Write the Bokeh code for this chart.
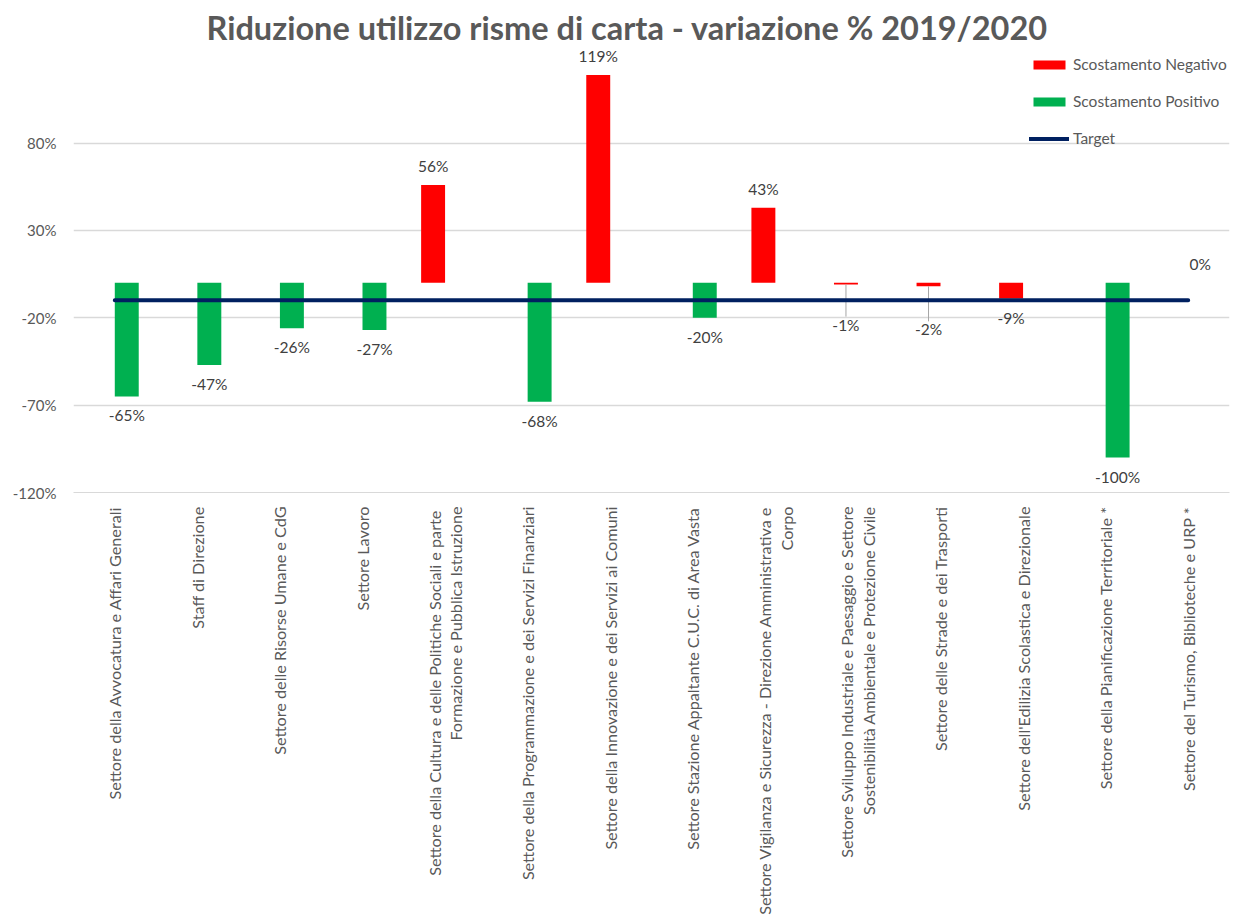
import math
from bokeh.plotting import figure
from bokeh.models import (ColumnDataSource, FactorRange, Range1d, FixedTicker,
                          NumeralTickFormatter, Legend, LegendItem, Title)
from bokeh.transform import dodge
from bokeh.core.properties import value
from bokeh.embed import file_html
from bokeh.resources import INLINE

# ---------------- data ----------------
categories = [
    "Settore della Avvocatura e Affari Generali",
    "Staff di Direzione",
    "Settore delle Risorse Umane e CdG",
    "Settore Lavoro",
    "Settore della Cultura e delle Politiche Sociali e  parte\nFormazione e Pubblica Istruzione",
    "Settore della Programmazione e dei Servizi Finanziari",
    "Settore della Innovazione e dei Servizi ai Comuni",
    "Settore Stazione Appaltante C.U.C. di Area Vasta",
    "Settore Vigilanza e Sicurezza - Direzione Amministrativa e\nCorpo",
    "Settore Sviluppo Industriale e Paesaggio e Settore\nSostenibilità Ambientale e Protezione Civile",
    "Settore delle Strade e dei Trasporti",
    "Settore dell'Edilizia Scolastica e Direzionale",
    "Settore della Pianificazione Territoriale *",
    "Settore del Turismo, Biblioteche e URP *",
]
scostamento_negativo = [None, None, None, None, 0.56, None, 1.19, None, 0.43, -0.01, -0.02, -0.09, None, None]
scostamento_positivo = [-0.65, -0.47, -0.26, -0.27, None, -0.68, None, -0.20, None, None, None, None, -1.00, 0.0]
target = [-0.10] * 14
y_ticks = [-1.2, -0.7, -0.2, 0.3, 0.8]

title_text = "Riduzione utilizzo risme di carta - variazione % 2019/2020"

# ---------------- layout / style ----------------
FRAME_W, FRAME_H = 1156, 442
Y0, Y1 = -1.2, 1.33
PPU = FRAME_H / (Y1 - Y0)          # pixels per unit on y
BAR_W = 0.29
OFF = 0.145
LABEL_GAP = 19
manual_nudge = {9: 40, 10: 43}     # labels moved by hand in the original (with leader lines)

RED, GREEN, NAVY = "#FF0000", "#00B050", "#002060"
TXT, LBL, GRID = "#595959", "#404040", "#D9D9D9"
FONT = "Lato"


def series_source(vals):
    cats, vs, labels, dy = [], [], [], []
    for i, v in enumerate(vals):
        if v is None:
            continue
        cats.append(categories[i])
        vs.append(v)
        labels.append(f"{round(v * 100):.0f}%")
        gap = manual_nudge.get(i, LABEL_GAP)
        dy.append(-gap if v >= 0 else gap)
    return ColumnDataSource(dict(cat=cats, val=vs, label=labels, dy=dy))


p = figure(x_range=FactorRange(*categories), y_range=Range1d(Y0, Y1),
           frame_width=FRAME_W, frame_height=FRAME_H,
           min_border_left=73, min_border_right=4, min_border_top=50, min_border_bottom=415,
           output_backend="svg", toolbar_location=None, background_fill_color="white",
           border_fill_color="white", outline_line_color=None)

src_neg = series_source(scostamento_negativo)
src_pos = series_source(scostamento_positivo)

r_neg = p.vbar(x=dodge("cat", -OFF, range=p.x_range), top="val", bottom=0, width=BAR_W,
               source=src_neg, fill_color=RED, line_color=None)
r_pos = p.vbar(x=dodge("cat", OFF, range=p.x_range), top="val", bottom=0, width=BAR_W,
               source=src_pos, fill_color=GREEN, line_color=None)

# leader lines for the manually moved labels
lead_x, lead_y0, lead_y1 = [], [], []
for i, v in enumerate(scostamento_negativo):
    if v is not None and i in manual_nudge:
        lead_x.append(categories[i])
        lead_y0.append(v)
        lead_y1.append(v - (manual_nudge[i] - 8) / PPU)
src_lead = ColumnDataSource(dict(cat=lead_x, y0=lead_y0, y1=lead_y1))
p.segment(x0=dodge("cat", -OFF, range=p.x_range), x1=dodge("cat", -OFF, range=p.x_range),
          y0="y0", y1="y1", source=src_lead, line_color="#A6A6A6", line_width=1)

src_t = ColumnDataSource(dict(cat=categories, val=target))
r_t = p.line(x="cat", y="val", source=src_t, line_color=NAVY, line_width=4, line_cap="round")

for src, off in ((src_neg, -OFF), (src_pos, OFF)):
    p.text(x=dodge("cat", off, range=p.x_range), y="val", text="label", y_offset="dy",
           source=src, text_align="center", text_baseline="middle",
           text_font=value(FONT), text_font_size="15.5px", text_color=LBL)

# axes
p.yaxis.ticker = FixedTicker(ticks=y_ticks)
p.yaxis.formatter = NumeralTickFormatter(format="0%")
p.yaxis.axis_line_color = None
p.yaxis.major_tick_line_color = None
p.yaxis.minor_tick_line_color = None
p.yaxis.major_label_standoff = 11
p.yaxis.major_label_text_font = FONT
p.yaxis.major_label_text_font_size = "15px"
p.yaxis.major_label_text_color = TXT

p.xaxis.axis_line_color = GRID
p.xaxis.major_tick_line_color = None
p.xaxis.minor_tick_line_color = None
p.xaxis.major_label_orientation = math.pi / 2
p.xaxis.major_label_standoff = 8
p.xaxis.major_label_text_font = FONT
p.xaxis.major_label_text_font_size = "16.2px"
p.xaxis.major_label_text_line_height = 1.15
p.xaxis.major_label_text_color = TXT

p.xgrid.grid_line_color = None
p.ygrid.grid_line_color = GRID
p.ygrid.grid_line_width = 1.3

# legend
legend = Legend(items=[LegendItem(label="Scostamento Negativo", renderers=[r_neg]),
                       LegendItem(label="Scostamento Positivo", renderers=[r_pos]),
                       LegendItem(label="Target", renderers=[r_t])],
                location=(956, 345), orientation="vertical",
                glyph_width=40, glyph_height=11, label_standoff=4, spacing=19,
                padding=0, margin=0, border_line_color=None, background_fill_alpha=0,
                label_text_font=FONT, label_text_font_size="15.5px", label_text_color=TXT)
p.add_layout(legend, "center")

p.title = Title(text=title_text, align="left", offset=133, standoff=7,
                text_font=FONT, text_font_style="bold", text_font_size="32.5px", text_color=TXT)

open("out.html", "w").write(file_html(p, INLINE))
